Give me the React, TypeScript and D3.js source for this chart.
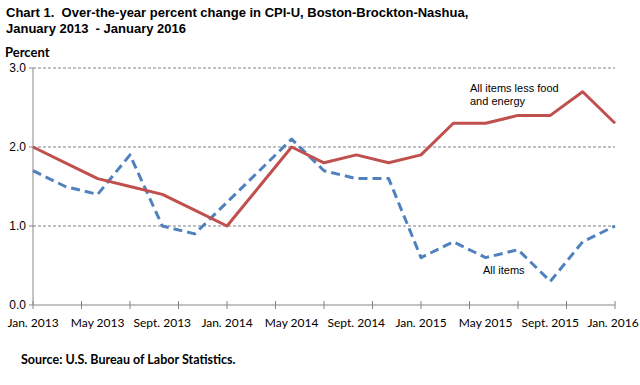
import React from 'react';
import * as d3 from 'd3';

// bimonthly CPI-U data, Jan 2013 - Jan 2016 (months from Jan 2013)
const months = [0, 2, 4, 6, 8, 10, 12, 14, 16, 18, 20, 22, 24, 26, 28, 30, 32, 34, 36];
const allItems = [1.7, 1.5, 1.4, 1.9, 1.0, 0.9, 1.3, 1.7, 2.1, 1.7, 1.6, 1.6, 0.6, 0.8, 0.6, 0.7, 0.3, 0.8, 1.0];
const coreItems = [2.0, 1.8, 1.6, 1.5, 1.4, 1.2, 1.0, 1.5, 2.0, 1.8, 1.9, 1.8, 1.9, 2.3, 2.3, 2.4, 2.4, 2.7, 2.3];

const xLabels = ['Jan. 2013', 'May 2013', 'Sept. 2013', 'Jan. 2014', 'May 2014', 'Sept. 2014',
  'Jan. 2015', 'May 2015', 'Sept. 2015', 'Jan. 2016'];
const yTicks = [0, 1, 2, 3];

export default function App() {
  const width = 640, height = 385;
  const x = d3.scaleLinear().domain([0, 36]).range([33, 615]);
  const y = d3.scaleLinear().domain([0, 3]).range([305, 68]);

  const line = d3.line<number>()
    .x((d, i) => x(months[i]))
    .y(d => y(d));

  const minorTicks = d3.range(0, 37, 3);
  const labelFont = 'Lato, "Open Sans", sans-serif';
  const arial = '"Liberation Sans", Arial, sans-serif';

  return (
    <svg width={width} height={height} style={{ position: 'absolute', left: 0, top: 0 }}>
      <rect width={width} height={height} fill="#fff" />
      <text x={6} y={17} fontFamily={arial} fontWeight="bold" fontSize={13} fill="#000"
        style={{ whiteSpace: 'pre' }}>
        {'Chart 1.  Over-the-year percent change in CPI-U, Boston-Brockton-Nashua,'}
      </text>
      <text x={6} y={33} fontFamily={arial} fontWeight="bold" fontSize={13} fill="#000"
        style={{ whiteSpace: 'pre' }}>
        {'January 2013  - January 2016'}
      </text>
      <text x={5} y={57} fontFamily={labelFont} fontWeight="bold" fontSize={13} fill="#000">
        Percent
      </text>

      {/* gridlines */}
      {yTicks.filter(t => t > 0).map(t => (
        <line key={t} x1={x(0)} x2={x(36)} y1={y(t)} y2={y(t)}
          stroke="#808080" strokeWidth={1} strokeDasharray="3,2" />
      ))}

      {/* y axis */}
      <line x1={x(0)} x2={x(0)} y1={y(3)} y2={y(0)} stroke="#868686" />
      {yTicks.map(t => (
        <g key={t}>
          <line x1={x(0) - 4} x2={x(0)} y1={y(t)} y2={y(t)} stroke="#868686" />
          <text x={26} y={y(t) + 4} textAnchor="end" fontFamily={arial} fontSize={12} fill="#000">
            {t.toFixed(1)}
          </text>
        </g>
      ))}

      {/* x axis */}
      <line x1={x(0)} x2={x(36)} y1={y(0)} y2={y(0)} stroke="#868686" />
      {minorTicks.map(m => (
        <line key={m} x1={x(m)} x2={x(m)} y1={y(0) - 4} y2={y(0) + 4} stroke="#868686" />
      ))}
      {xLabels.map((l, i) => (
        <text key={l} x={Math.min(x(i * 4), 613)} y={327} textAnchor="middle" fontFamily={labelFont}
          fontSize={12} fill="#000">{l}</text>
      ))}

      <path d={line(allItems) || ''} fill="none" stroke="#4F81BD" strokeWidth={3}
        strokeDasharray="9,5" strokeLinejoin="round" />
      <path d={line(coreItems) || ''} fill="none" stroke="#C0504D" strokeWidth={3}
        strokeLinejoin="round" />

      <text x={470} y={92} fontFamily={arial} fontSize={11} fill="#000">All items less food</text>
      <text x={470} y={105} fontFamily={arial} fontSize={11} fill="#000">and energy</text>
      <text x={483} y={274} fontFamily={arial} fontSize={11} fill="#000">All items</text>

      <text x={21} y={364} fontFamily={labelFont} fontWeight="bold" fontSize={12.5} fill="#000">
        Source: U.S. Bureau of Labor Statistics.
      </text>
    </svg>
  );
}
